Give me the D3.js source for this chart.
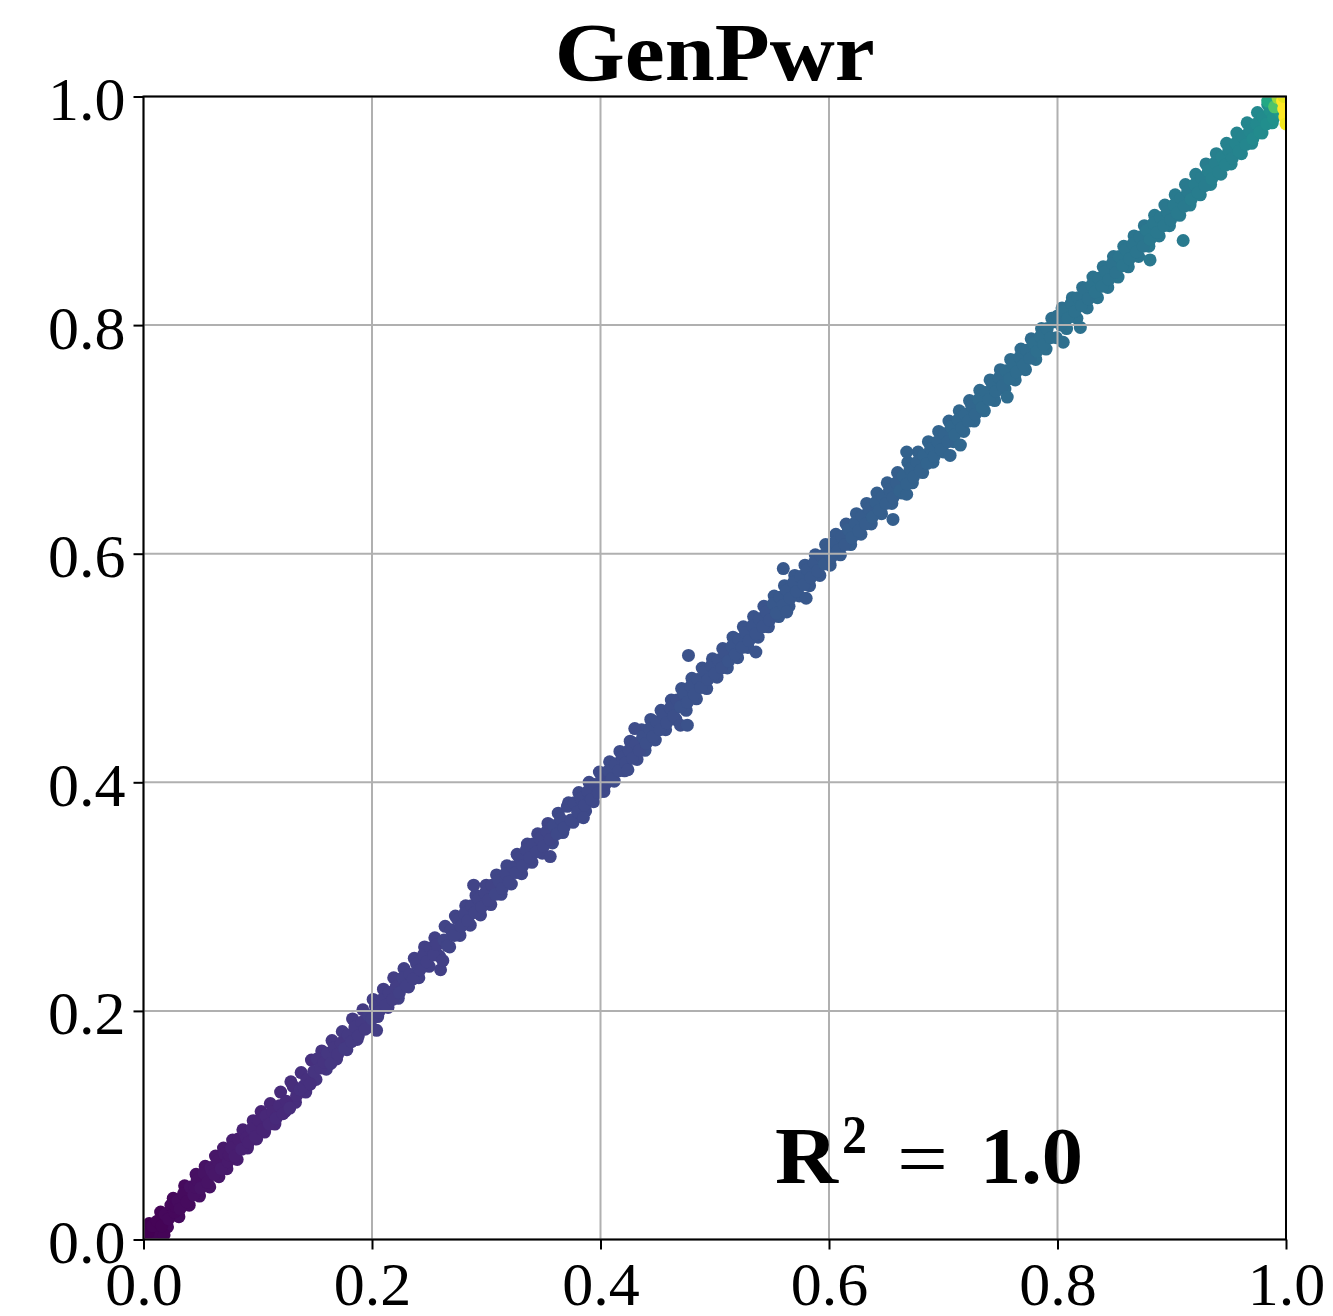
<!DOCTYPE html>
<html>
<head>
<meta charset="utf-8">
<script src="https://cdn.jsdelivr.net/npm/d3@7"></script>
<style>
  html, body { margin: 0; padding: 0; background: #fff; }
  svg { display: block; }
  text { font-family: "Liberation Serif", "DejaVu Serif", serif; }
</style>
</head>
<body>
<svg id="chart" width="1333" height="1316"></svg>
<script>
// ---- data: [actual, predicted, colour value (viridis 0..1)] ----
const title = "GenPwr";
const r2Label = "1.0";
const xTicks = [0, 0.2, 0.4, 0.6, 0.8, 1.0];
const yTicks = [0, 0.2, 0.4, 0.6, 0.8, 1.0];
// core of the point cloud
const samplesCore = [
[0.002,0.000,0.00],[0.006,0.002,0.00],[0.010,0.001,0.01],[0.014,0.003,0.01],[0.018,0.004,0.01],[0.004,0.006,0.00],[0.008,0.012,0.01],[0.012,0.016,0.01],[0.016,0.012,0.01],[0.019,0.022,0.02],[0.022,0.018,0.02],[0.024,0.030,0.02],[0.027,0.024,0.02],[0.028,0.029,0.02],[0.030,0.034,0.03],[0.032,0.027,0.03],[0.035,0.040,0.03],[0.038,0.033,0.03],[0.041,0.046,0.04],[0.044,0.039,0.04],[0.045,0.046,0.04],[0.047,0.052,0.04],[0.050,0.045,0.05],[0.053,0.058,0.05],[0.056,0.050,0.05],[0.059,0.063,0.06],[0.060,0.060,0.06],[0.062,0.057,0.06],[0.065,0.069,0.06],[0.068,0.062,0.07],[0.071,0.075,0.07],[0.074,0.068,0.07],[0.075,0.074,0.07],[0.077,0.080,0.08],[0.080,0.073,0.08],[0.083,0.088,0.08],[0.086,0.079,0.09],[0.089,0.093,0.09],[0.090,0.089,0.09],[0.092,0.085,0.09],[0.095,0.097,0.10],[0.098,0.090,0.10],
[0.101,0.104,0.10],[0.104,0.096,0.10],[0.107,0.108,0.11],[0.110,0.101,0.11],[0.113,0.112,0.11],[0.116,0.106,0.12],[0.119,0.117,0.12],[0.122,0.110,0.12],[0.125,0.121,0.12],[0.128,0.115,0.13],[0.131,0.134,0.13],[0.134,0.126,0.13],[0.137,0.131,0.14],[0.140,0.134,0.14],[0.143,0.140,0.14],[0.146,0.136,0.14],[0.149,0.147,0.15],[0.152,0.158,0.15],[0.155,0.150,0.15],[0.158,0.155,0.15],[0.161,0.163,0.16],[0.164,0.154,0.16],[0.167,0.168,0.16],[0.170,0.162,0.16],[0.173,0.172,0.16],[0.176,0.167,0.17],[0.179,0.179,0.17],[0.182,0.173,0.17],[0.185,0.186,0.17],[0.188,0.178,0.17],[0.191,0.190,0.17],[0.194,0.184,0.17],[0.197,0.196,0.18],[0.200,0.193,0.18],
[0.203,0.204,0.18],[0.206,0.199,0.18],[0.209,0.210,0.18],[0.204,0.183,0.18],[0.212,0.205,0.18],[0.215,0.216,0.18],[0.218,0.210,0.18],[0.221,0.221,0.18],[0.224,0.216,0.19],[0.227,0.229,0.19],[0.230,0.222,0.19],[0.233,0.232,0.19],[0.236,0.228,0.19],[0.239,0.241,0.19],[0.242,0.236,0.19],[0.245,0.249,0.19],[0.248,0.243,0.19],[0.251,0.255,0.19],[0.254,0.249,0.19],[0.257,0.258,0.19],[0.260,0.236,0.19],[0.262,0.244,0.19],[0.263,0.262,0.20],[0.266,0.257,0.20],[0.269,0.271,0.20],[0.272,0.266,0.20],[0.275,0.280,0.20],[0.278,0.274,0.20],[0.281,0.285,0.20],[0.284,0.279,0.20],[0.287,0.292,0.20],[0.289,0.310,0.20],[0.290,0.286,0.20],[0.293,0.298,0.20],[0.296,0.291,0.20],[0.299,0.303,0.20],
[0.302,0.297,0.20],[0.305,0.310,0.20],[0.308,0.302,0.21],[0.311,0.314,0.21],[0.314,0.307,0.21],[0.317,0.320,0.21],[0.320,0.313,0.21],[0.323,0.326,0.21],[0.326,0.321,0.21],[0.329,0.334,0.21],[0.332,0.327,0.21],[0.335,0.341,0.21],[0.338,0.334,0.21],[0.341,0.346,0.21],[0.344,0.339,0.21],[0.347,0.351,0.21],[0.350,0.344,0.21],[0.353,0.357,0.21],[0.356,0.335,0.21],[0.356,0.350,0.21],[0.359,0.362,0.22],[0.362,0.355,0.22],[0.365,0.368,0.22],[0.368,0.360,0.22],[0.371,0.379,0.22],[0.374,0.367,0.22],[0.377,0.382,0.22],[0.380,0.374,0.22],[0.383,0.386,0.22],[0.385,0.369,0.22],[0.386,0.380,0.22],[0.389,0.392,0.22],[0.392,0.385,0.22],[0.395,0.398,0.22],[0.398,0.391,0.22],
[0.401,0.405,0.22],[0.404,0.398,0.22],[0.407,0.410,0.23],[0.410,0.403,0.23],[0.413,0.416,0.23],[0.416,0.410,0.23],[0.419,0.422,0.23],[0.422,0.417,0.23],[0.424,0.411,0.23],[0.425,0.428,0.23],[0.428,0.421,0.23],[0.430,0.447,0.23],[0.431,0.434,0.23],[0.434,0.428,0.23],[0.437,0.440,0.24],[0.440,0.434,0.24],[0.443,0.447,0.24],[0.446,0.440,0.24],[0.449,0.453,0.24],[0.452,0.446,0.24],[0.455,0.459,0.24],[0.458,0.452,0.24],[0.461,0.465,0.24],[0.464,0.458,0.24],[0.467,0.472,0.24],[0.470,0.450,0.24],[0.476,0.450,0.25],[0.470,0.466,0.25],[0.473,0.478,0.25],[0.476,0.470,0.25],[0.477,0.511,0.25],[0.479,0.484,0.25],[0.482,0.477,0.25],[0.485,0.490,0.25],[0.488,0.483,0.25],[0.491,0.497,0.25],[0.494,0.490,0.25],[0.497,0.502,0.25],[0.500,0.495,0.25],
[0.503,0.507,0.25],[0.506,0.500,0.25],[0.509,0.513,0.25],[0.512,0.506,0.26],[0.515,0.519,0.26],[0.518,0.512,0.26],[0.521,0.525,0.26],[0.524,0.518,0.26],[0.527,0.531,0.26],[0.530,0.524,0.26],[0.533,0.537,0.26],[0.536,0.514,0.26],[0.536,0.530,0.26],[0.539,0.543,0.26],[0.542,0.536,0.26],[0.545,0.549,0.26],[0.548,0.542,0.26],[0.551,0.556,0.27],[0.554,0.548,0.27],[0.557,0.562,0.27],[0.560,0.587,0.27],[0.560,0.555,0.27],[0.563,0.549,0.27],[0.563,0.568,0.27],[0.566,0.561,0.27],[0.569,0.575,0.27],[0.572,0.567,0.27],[0.575,0.580,0.27],[0.578,0.573,0.27],[0.580,0.561,0.27],[0.581,0.586,0.27],[0.584,0.579,0.27],[0.587,0.592,0.27],[0.590,0.585,0.27],[0.593,0.598,0.27],[0.596,0.591,0.28],[0.599,0.603,0.28],
[0.602,0.597,0.28],[0.605,0.610,0.28],[0.608,0.603,0.28],[0.611,0.615,0.28],[0.614,0.608,0.28],[0.617,0.621,0.29],[0.620,0.614,0.29],[0.623,0.627,0.29],[0.626,0.620,0.29],[0.629,0.633,0.29],[0.632,0.626,0.29],[0.635,0.639,0.29],[0.638,0.632,0.30],[0.641,0.645,0.30],[0.644,0.638,0.30],[0.647,0.650,0.30],[0.650,0.644,0.30],[0.653,0.656,0.30],[0.656,0.630,0.30],[0.656,0.649,0.30],[0.659,0.662,0.30],[0.662,0.655,0.31],[0.665,0.668,0.31],[0.668,0.652,0.31],[0.668,0.689,0.31],[0.668,0.661,0.31],[0.671,0.674,0.31],[0.674,0.667,0.31],[0.677,0.680,0.31],[0.680,0.673,0.31],[0.683,0.686,0.32],[0.686,0.679,0.32],[0.689,0.692,0.32],[0.692,0.685,0.32],[0.695,0.698,0.32],[0.698,0.691,0.32],
[0.701,0.705,0.32],[0.704,0.698,0.32],[0.706,0.686,0.32],[0.707,0.711,0.33],[0.710,0.704,0.33],[0.713,0.717,0.33],[0.715,0.695,0.33],[0.716,0.710,0.33],[0.719,0.722,0.33],[0.722,0.716,0.33],[0.725,0.729,0.33],[0.728,0.722,0.33],[0.731,0.735,0.34],[0.734,0.728,0.34],[0.737,0.741,0.34],[0.740,0.735,0.34],[0.743,0.748,0.34],[0.746,0.742,0.34],[0.749,0.754,0.34],[0.752,0.747,0.34],[0.755,0.760,0.35],[0.756,0.737,0.35],[0.758,0.753,0.35],[0.761,0.766,0.35],[0.764,0.759,0.35],[0.767,0.772,0.35],[0.770,0.765,0.35],[0.773,0.778,0.35],[0.776,0.771,0.35],[0.779,0.784,0.36],[0.782,0.777,0.36],[0.785,0.790,0.36],[0.788,0.783,0.36],[0.791,0.797,0.36],[0.794,0.789,0.36],[0.797,0.803,0.36],
[0.800,0.808,0.36],[0.803,0.800,0.36],[0.805,0.785,0.36],[0.806,0.812,0.37],[0.809,0.806,0.37],[0.812,0.819,0.37],[0.815,0.812,0.37],[0.818,0.824,0.37],[0.820,0.798,0.37],[0.821,0.817,0.37],[0.824,0.830,0.37],[0.827,0.823,0.37],[0.830,0.835,0.38],[0.833,0.829,0.38],[0.836,0.841,0.38],[0.839,0.834,0.38],[0.842,0.847,0.38],[0.845,0.840,0.38],[0.848,0.854,0.38],[0.851,0.846,0.38],[0.854,0.860,0.39],[0.857,0.852,0.39],[0.860,0.866,0.39],[0.863,0.858,0.39],[0.866,0.871,0.39],[0.869,0.864,0.39],[0.872,0.877,0.39],[0.875,0.869,0.39],[0.878,0.883,0.40],[0.881,0.857,0.40],[0.881,0.875,0.40],[0.884,0.889,0.40],[0.887,0.881,0.40],[0.890,0.894,0.40],[0.893,0.887,0.40],[0.896,0.899,0.40],[0.899,0.892,0.40],
[0.902,0.905,0.41],[0.905,0.898,0.41],[0.908,0.911,0.41],[0.910,0.874,0.41],[0.911,0.904,0.41],[0.914,0.917,0.41],[0.917,0.910,0.42],[0.920,0.923,0.42],[0.923,0.916,0.42],[0.926,0.929,0.42],[0.929,0.922,0.42],[0.932,0.935,0.43],[0.935,0.928,0.43],[0.938,0.942,0.43],[0.941,0.934,0.43],[0.944,0.947,0.44],[0.947,0.940,0.44],[0.950,0.953,0.44],[0.953,0.946,0.44],[0.956,0.959,0.45],[0.959,0.952,0.45],[0.962,0.965,0.45],[0.965,0.958,0.46],[0.968,0.970,0.46],[0.971,0.963,0.47],[0.974,0.976,0.47],[0.977,0.969,0.48],[0.980,0.982,0.48],[0.983,0.976,0.49],[0.986,0.988,0.50],[0.989,0.981,0.50],[0.992,0.993,0.52],[0.995,0.986,0.53]
];
// points on the edges of the cloud
const samplesEdge = [
[0.005,0.014,0.00],[0.011,0.004,0.01],[0.015,0.024,0.01],[0.021,0.011,0.02],[0.026,0.036,0.02],[0.031,0.020,0.03],[0.036,0.047,0.03],[0.040,0.030,0.03],[0.046,0.057,0.04],[0.049,0.038,0.04],[0.054,0.064,0.05],[0.058,0.046,0.05],[0.063,0.073,0.06],[0.066,0.055,0.06],[0.070,0.080,0.07],[0.073,0.062,0.07],[0.078,0.087,0.08],[0.082,0.070,0.08],[0.087,0.096,0.09],[0.091,0.080,0.09],[0.096,0.104,0.10],[0.099,0.088,0.10],
[0.103,0.112,0.10],[0.106,0.094,0.10],[0.111,0.119,0.11],[0.115,0.101,0.11],[0.120,0.129,0.12],[0.124,0.112,0.12],[0.129,0.138,0.13],[0.133,0.120,0.13],[0.138,0.146,0.14],[0.142,0.129,0.14],[0.147,0.157,0.14],[0.151,0.140,0.15],[0.156,0.165,0.15],[0.160,0.149,0.16],[0.165,0.174,0.16],[0.169,0.158,0.16],[0.174,0.182,0.17],[0.178,0.166,0.17],[0.183,0.193,0.17],[0.187,0.175,0.17],[0.192,0.201,0.17],[0.196,0.186,0.18],
[0.201,0.210,0.18],[0.205,0.195,0.18],[0.210,0.219,0.18],[0.214,0.203,0.18],[0.219,0.229,0.18],[0.223,0.211,0.19],[0.228,0.237,0.19],[0.232,0.221,0.19],[0.237,0.246,0.19],[0.241,0.229,0.19],[0.246,0.256,0.19],[0.250,0.239,0.19],[0.255,0.264,0.19],[0.259,0.248,0.19],[0.264,0.274,0.20],[0.268,0.256,0.20],[0.273,0.283,0.20],[0.277,0.266,0.20],[0.282,0.292,0.20],[0.286,0.275,0.20],[0.291,0.301,0.20],[0.295,0.284,0.20],
[0.300,0.310,0.20],[0.304,0.293,0.20],[0.309,0.319,0.21],[0.313,0.302,0.21],[0.318,0.327,0.21],[0.322,0.311,0.21],[0.327,0.337,0.21],[0.331,0.320,0.21],[0.336,0.346,0.21],[0.340,0.330,0.21],[0.345,0.355,0.21],[0.349,0.338,0.21],[0.354,0.364,0.21],[0.358,0.347,0.22],[0.363,0.373,0.22],[0.367,0.356,0.22],[0.372,0.382,0.22],[0.376,0.365,0.22],[0.381,0.391,0.22],[0.387,0.375,0.22],[0.390,0.400,0.22],[0.394,0.383,0.22],
[0.399,0.409,0.22],[0.403,0.392,0.22],[0.408,0.418,0.23],[0.412,0.401,0.23],[0.417,0.427,0.23],[0.421,0.410,0.23],[0.426,0.436,0.23],[0.432,0.420,0.23],[0.436,0.446,0.24],[0.439,0.428,0.24],[0.444,0.455,0.24],[0.448,0.437,0.24],[0.453,0.463,0.24],[0.457,0.446,0.24],[0.462,0.472,0.24],[0.466,0.455,0.24],[0.471,0.482,0.25],[0.475,0.463,0.25],[0.480,0.491,0.25],[0.484,0.473,0.25],[0.489,0.500,0.25],[0.493,0.482,0.25],[0.498,0.508,0.25],
[0.502,0.492,0.25],[0.507,0.517,0.25],[0.511,0.500,0.26],[0.516,0.527,0.26],[0.520,0.509,0.26],[0.525,0.536,0.26],[0.529,0.518,0.26],[0.534,0.545,0.26],[0.538,0.527,0.26],[0.543,0.554,0.26],[0.547,0.536,0.26],[0.552,0.563,0.27],[0.556,0.545,0.27],[0.561,0.572,0.27],[0.565,0.554,0.27],[0.570,0.581,0.27],[0.574,0.563,0.27],[0.579,0.590,0.27],[0.583,0.572,0.27],[0.588,0.599,0.27],[0.592,0.581,0.27],[0.597,0.608,0.28],
[0.601,0.590,0.28],[0.606,0.617,0.28],[0.610,0.599,0.28],[0.615,0.626,0.28],[0.619,0.608,0.29],[0.624,0.635,0.29],[0.628,0.617,0.29],[0.633,0.644,0.29],[0.637,0.626,0.29],[0.642,0.653,0.30],[0.646,0.635,0.30],[0.651,0.662,0.30],[0.655,0.644,0.30],[0.660,0.671,0.30],[0.664,0.653,0.31],[0.669,0.680,0.31],[0.673,0.662,0.31],[0.678,0.689,0.31],[0.682,0.671,0.31],[0.687,0.698,0.32],[0.691,0.680,0.32],[0.696,0.707,0.32],
[0.700,0.689,0.32],[0.705,0.716,0.32],[0.709,0.698,0.33],[0.714,0.725,0.33],[0.718,0.707,0.33],[0.723,0.734,0.33],[0.727,0.716,0.33],[0.732,0.743,0.34],[0.736,0.725,0.34],[0.741,0.752,0.34],[0.745,0.734,0.34],[0.750,0.761,0.34],[0.754,0.744,0.35],[0.759,0.770,0.35],[0.763,0.752,0.35],[0.768,0.779,0.35],[0.772,0.761,0.35],[0.777,0.788,0.35],[0.781,0.770,0.36],[0.786,0.797,0.36],[0.790,0.779,0.36],[0.795,0.806,0.36],
[0.799,0.789,0.36],[0.804,0.815,0.36],[0.808,0.797,0.37],[0.813,0.824,0.37],[0.817,0.806,0.37],[0.822,0.833,0.37],[0.826,0.815,0.37],[0.831,0.842,0.38],[0.835,0.824,0.38],[0.840,0.851,0.38],[0.844,0.833,0.38],[0.849,0.860,0.38],[0.853,0.842,0.39],[0.858,0.869,0.39],[0.862,0.851,0.39],[0.867,0.878,0.39],[0.871,0.860,0.39],[0.876,0.887,0.39],[0.880,0.869,0.40],[0.885,0.896,0.40],[0.889,0.878,0.40],[0.894,0.905,0.40],[0.898,0.887,0.40],
[0.903,0.914,0.41],[0.907,0.896,0.41],[0.912,0.923,0.41],[0.916,0.905,0.42],[0.921,0.932,0.42],[0.925,0.914,0.42],[0.930,0.941,0.42],[0.934,0.923,0.43],[0.939,0.950,0.43],[0.943,0.932,0.43],[0.948,0.959,0.44],[0.952,0.941,0.44],[0.957,0.968,0.45],[0.961,0.950,0.45],[0.966,0.977,0.46],[0.970,0.959,0.46],[0.975,0.986,0.47],[0.979,0.968,0.48],[0.984,0.993,0.49],[0.988,0.977,0.50],[0.993,0.985,0.52]
];
// saturated (rated power) points in the upper right corner
const samplesRated = [
[0.984,0.996,0.60],[0.990,0.991,0.72],[0.993,0.999,0.85],[0.997,0.996,1.00],[0.998,0.989,1.00],[0.999,0.982,1.00],[1.000,0.976,0.98],[0.998,1.000,0.96]
];

// ---- layout ----
const svg = d3.select("#chart");
const L = 143.5, R = 1286, T = 96.5, B = 1239.5;
const x = d3.scaleLinear().domain([0, 1]).range([L, R]);
const y = d3.scaleLinear().domain([0, 1]).range([B, T]);
const color = d3.scaleSequential(d3.interpolateViridis).domain([0, 1]);

svg.append("defs").append("clipPath").attr("id", "plotclip")
  .append("rect").attr("x", L).attr("y", T).attr("width", R - L).attr("height", B - T);

// points
const allSamples = samplesEdge.concat(samplesCore, samplesRated);
svg.append("g").attr("clip-path", "url(#plotclip)")
  .selectAll("circle").data(allSamples).join("circle")
  .attr("cx", d => x(d[0])).attr("cy", d => y(d[1]))
  .attr("r", 6.5)
  .attr("fill", d => color(d[2]));

// grid (drawn above points, as in the reference)
const grid = svg.append("g").attr("stroke", "#b0b0b0").attr("stroke-width", 2);
grid.selectAll("line.gx").data(xTicks).join("line").attr("class", "gx")
  .attr("x1", d => x(d)).attr("x2", d => x(d)).attr("y1", T).attr("y2", B);
grid.selectAll("line.gy").data(yTicks).join("line").attr("class", "gy")
  .attr("y1", d => y(d)).attr("y2", d => y(d)).attr("x1", L).attr("x2", R);

// axes
const fmt = d3.format(".1f");
const xAxis = svg.append("g").attr("transform", `translate(0,${B})`)
  .call(d3.axisBottom(x).tickValues(xTicks).tickFormat(fmt).tickSize(10).tickPadding(11));
const yAxis = svg.append("g").attr("transform", `translate(${L},0)`)
  .call(d3.axisLeft(y).tickValues(yTicks).tickFormat(fmt).tickSize(10).tickPadding(8));
[xAxis, yAxis].forEach(a => {
  a.select(".domain").remove();
  a.selectAll(".tick line").attr("stroke", "#000").attr("stroke-width", 2);
  a.selectAll(".tick text").attr("fill", "#000")
    .style("font-family", '"Liberation Serif", serif').style("font-size", "62px");
});
yAxis.selectAll(".tick text").attr("dy", "0.37em");

// frame
svg.append("rect").attr("x", L).attr("y", T).attr("width", R - L).attr("height", B - T)
  .attr("fill", "none").attr("stroke", "#000").attr("stroke-width", 2);

// title
svg.append("text").attr("x", (L + R) / 2).attr("y", 80).attr("text-anchor", "middle")
  .attr("font-weight", "bold").attr("font-size", 83)
  .attr("textLength", 320).attr("lengthAdjust", "spacingAndGlyphs")
  .text(title);

// R^2 annotation
const ann = svg.append("g").attr("font-weight", "bold").attr("fill", "#000");
ann.append("text").attr("x", 775).attr("y", 1183).attr("font-size", 80)
  .attr("textLength", 63).attr("lengthAdjust", "spacingAndGlyphs").text("R");
ann.append("text").attr("x", 842).attr("y", 1153).attr("font-size", 54)
  .attr("textLength", 25).attr("lengthAdjust", "spacingAndGlyphs").text("2");
ann.append("text").attr("x", 897).attr("y", 1186).attr("font-size", 80).attr("font-weight", "normal")
  .attr("textLength", 51).attr("lengthAdjust", "spacingAndGlyphs").text("=");
ann.append("text").attr("x", 980).attr("y", 1183).attr("font-size", 80)
  .attr("textLength", 103).attr("lengthAdjust", "spacingAndGlyphs").text(r2Label);
</script>
</body>
</html>
